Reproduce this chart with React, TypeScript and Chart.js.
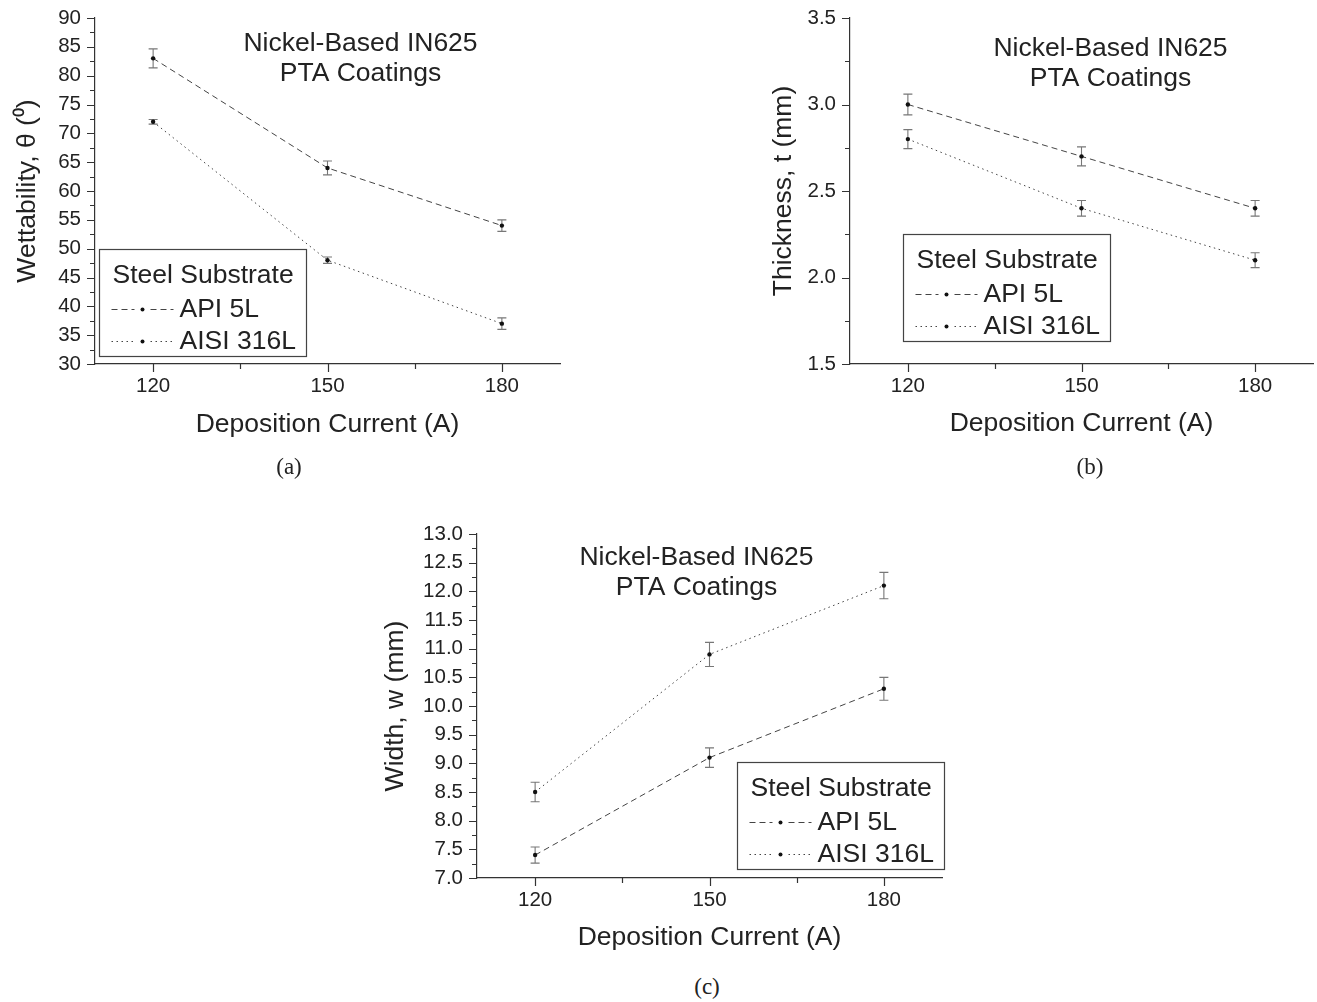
import { useEffect, useRef } from "react";
import { Chart, registerables } from "chart.js";
Chart.register(...registerables);

// ---------- data ----------
const currents = [120, 150, 180];
const xTicks = [120, 135, 150, 165, 180];
const xLabels = ["120", "150", "180"];
const seriesNames = ["API 5L", "AISI 316L"];
const legendTitle = "Steel Substrate";
const panelTitle = ["Nickel-Based IN625", "PTA Coatings"];
const xTitle = "Deposition Current (A)";

const wetApi = [83, 64, 54];
const wetApiErr = [1.65, 1.2, 1.0];
const wetAisi = [72, 48, 37];
const wetAisiErr = [0.4, 0.55, 1.0];

const thkApi = [3.0, 2.7, 2.4];
const thkApiErr = [0.06, 0.055, 0.045];
const thkAisi = [2.8, 2.4, 2.1];
const thkAisiErr = [0.055, 0.045, 0.043];

const widApi = [7.4, 9.1, 10.3];
const widApiErr = [0.14, 0.17, 0.2];
const widAisi = [8.5, 10.9, 12.1];
const widAisiErr = [0.17, 0.21, 0.23];

const FONT = '"Liberation Sans", Arial, Helvetica, sans-serif';
const TXT = "#222";
const AXIS = "#333";
const BIG = 26.5;
const TICK = 20.5;

type Panel = {
  key: string;
  box: { left: number; top: number; width: number; height: number };
  yTitle: string;
  yMin: number;
  yMax: number;
  yStep: number;
  yMajor: number;
  yDec: number;
  api: number[];
  apiErr: number[];
  aisi: number[];
  aisiErr: number[];
  padTop: number;
  padRight: number;
  yAxisW: number;
  xAxisH: number;
  yTitlePad: number;
  xTitlePad: number;
  titleDx: number;
  titleDy: number;
  legendDx: number;
  legendDyBottom: number;
  caption: string;
  capX: number;
  capY: number;
};

const panels: Panel[] = [
  {
    key: "a",
    box: { left: 0, top: 0, width: 600, height: 460 },
    yTitle: "Wettability, θ (⁰)",
    yMin: 30, yMax: 90, yStep: 2.5, yMajor: 5, yDec: 0,
    api: wetApi, apiErr: wetApiErr, aisi: wetAisi, aisiErr: wetAisiErr,
    padTop: 18, padRight: 40, yAxisW: 95, xAxisH: 96,
    yTitlePad: 12, xTitlePad: 19,
    titleDx: 265.5, titleDy: 26,
    legendDx: 4, legendDyBottom: 8,
    caption: "(a)", capX: 289, capY: 467,
  },
  {
    key: "b",
    box: { left: 740, top: 0, width: 577, height: 460 },
    yTitle: "Thickness, t (mm)",
    yMin: 1.5, yMax: 3.5, yStep: 0.25, yMajor: 0.5, yDec: 1,
    api: thkApi, apiErr: thkApiErr, aisi: thkAisi, aisiErr: thkAisiErr,
    padTop: 18, padRight: 2, yAxisW: 110, xAxisH: 96,
    yTitlePad: 28, xTitlePad: 20,
    titleDx: 260.5, titleDy: 31,
    legendDx: 53, legendDyBottom: 23,
    caption: "(b)", capX: 1090, capY: 467,
  },
  {
    key: "c",
    box: { left: 360, top: 500, width: 620, height: 470 },
    yTitle: "Width, w (mm)",
    yMin: 7, yMax: 13, yStep: 0.25, yMajor: 0.5, yDec: 1,
    api: widApi, apiErr: widApiErr, aisi: widAisi, aisiErr: widAisiErr,
    padTop: 34, padRight: 38, yAxisW: 117, xAxisH: 92,
    yTitlePad: 20, xTitlePad: 16,
    titleDx: 219.5, titleDy: 23.5,
    legendDx: 260, legendDyBottom: 9,
    caption: "(c)", capX: 707, capY: 987,
  },
];

const DASH_API = [6, 4];
const DASH_AISI = [1.5, 3.5];
const LINE = "#444";
const ERR = "#777";

const isMajor = (v: number, m: number) => Math.abs(v / m - Math.round(v / m)) < 1e-6;

const decorPlugin = {
  id: "decor",
  beforeDatasetsDraw(chart: any) {
    const ctx = chart.ctx;
    const ys = chart.scales.y;
    ctx.save();
    ctx.strokeStyle = ERR;
    ctx.lineWidth = 1.1;
    ctx.setLineDash([]);
    chart.data.datasets.forEach((ds: any, di: number) => {
      const meta = chart.getDatasetMeta(di);
      meta.data.forEach((el: any, i: number) => {
        const v = ds.data[i].y;
        const e = ds.errors[i];
        const y1 = ys.getPixelForValue(v + e);
        const y2 = ys.getPixelForValue(v - e);
        const x = el.x;
        ctx.beginPath();
        ctx.moveTo(x, y1);
        ctx.lineTo(x, y2);
        ctx.moveTo(x - 4.5, y1);
        ctx.lineTo(x + 4.5, y1);
        ctx.moveTo(x - 4.5, y2);
        ctx.lineTo(x + 4.5, y2);
        ctx.stroke();
      });
    });
    ctx.restore();
  },
  afterDraw(chart: any, _args: any, opts: any) {
    const ctx = chart.ctx;
    const ca = chart.chartArea;
    const xs = chart.scales.x;
    const ys = chart.scales.y;
    ctx.save();
    // tick marks
    ctx.strokeStyle = AXIS;
    ctx.lineWidth = 1.2;
    ctx.setLineDash([]);
    ctx.beginPath();
    xs.ticks.forEach((t: any) => {
      const px = Math.round(xs.getPixelForValue(t.value)) + 0.5;
      const len = xLabels.includes(String(t.value)) ? 8 : 5;
      ctx.moveTo(px, ca.bottom);
      ctx.lineTo(px, ca.bottom + len);
    });
    ys.ticks.forEach((t: any) => {
      const py = Math.round(ys.getPixelForValue(t.value)) + 0.5;
      const len = isMajor(t.value, opts.yMajor) ? 8 : 5;
      ctx.moveTo(ca.left, py);
      ctx.lineTo(ca.left - len, py);
    });
    ctx.stroke();

    // panel title
    ctx.fillStyle = TXT;
    ctx.font = `${BIG}px ${FONT}`;
    ctx.textAlign = "center";
    ctx.textBaseline = "middle";
    ctx.fillText(panelTitle[0], ca.left + opts.titleDx, ca.top + opts.titleDy);
    ctx.fillText(panelTitle[1], ca.left + opts.titleDx, ca.top + opts.titleDy + 30);

    // legend
    const bw = 207;
    const bh = 107;
    const bx = Math.round(ca.left + opts.legendDx) + 0.5;
    const by = Math.round(ca.bottom - opts.legendDyBottom - bh) + 0.5;
    ctx.fillStyle = "#fff";
    ctx.fillRect(bx, by, bw, bh);
    ctx.strokeStyle = "#444";
    ctx.lineWidth = 1.2;
    ctx.strokeRect(bx, by, bw, bh);
    ctx.fillStyle = TXT;
    ctx.textAlign = "left";
    ctx.fillText(legendTitle, bx + 13, by + 26);
    const rows = [
      { name: seriesNames[0], dash: DASH_API, dy: 60 },
      { name: seriesNames[1], dash: DASH_AISI, dy: 92 },
    ];
    rows.forEach((r) => {
      const yy = by + r.dy;
      ctx.strokeStyle = LINE;
      ctx.lineWidth = 1;
      ctx.setLineDash(r.dash);
      ctx.beginPath();
      ctx.moveTo(bx + 12, yy);
      ctx.lineTo(bx + 35, yy);
      ctx.moveTo(bx + 51, yy);
      ctx.lineTo(bx + 74, yy);
      ctx.stroke();
      ctx.setLineDash([]);
      ctx.fillStyle = "#111";
      ctx.beginPath();
      ctx.arc(bx + 43, yy, 2, 0, Math.PI * 2);
      ctx.fill();
      ctx.fillStyle = TXT;
      ctx.fillText(r.name, bx + 80, yy);
    });
    ctx.restore();
  },
};

function PanelChart({ p }: { p: Panel }) {
  const ref = useRef<HTMLCanvasElement | null>(null);
  useEffect(() => {
    if (!ref.current) return;
    const yVals: number[] = [];
    for (let v = p.yMin; v <= p.yMax + 1e-9; v += p.yStep) yVals.push(Number(v.toFixed(4)));
    const mk = (vals: number[]) => currents.map((c, i) => ({ x: c, y: vals[i] }));
    const chart = new Chart(ref.current, {
      type: "line",
      data: {
        datasets: [
          {
            label: seriesNames[0],
            data: mk(p.api),
            errors: p.apiErr,
            borderColor: LINE,
            borderWidth: 1,
            borderDash: DASH_API,
            pointRadius: 2.2,
            pointBackgroundColor: "#111",
            pointBorderWidth: 0,
            fill: false,
            tension: 0,
          } as any,
          {
            label: seriesNames[1],
            data: mk(p.aisi),
            errors: p.aisiErr,
            borderColor: LINE,
            borderWidth: 1,
            borderDash: DASH_AISI,
            pointRadius: 2.2,
            pointBackgroundColor: "#111",
            pointBorderWidth: 0,
            fill: false,
            tension: 0,
          } as any,
        ],
      },
      options: {
        animation: false,
        responsive: false,
        maintainAspectRatio: false,
        layout: { padding: { left: 0, top: p.padTop, right: p.padRight, bottom: 0 } },
        plugins: {
          legend: { display: false },
          tooltip: { enabled: false },
          decor: { yMajor: p.yMajor, titleDx: p.titleDx, titleDy: p.titleDy, legendDx: p.legendDx, legendDyBottom: p.legendDyBottom },
        } as any,
        scales: {
          x: {
            type: "linear",
            min: 110,
            max: 190,
            grid: { display: false },
            border: { display: true, color: AXIS, width: 1.2 },
            afterBuildTicks: (s: any) => {
              s.ticks = xTicks.map((v) => ({ value: v }));
            },
            ticks: {
              autoSkip: false,
              maxRotation: 0,
              padding: 2,
              color: TXT,
              font: { size: TICK, family: FONT },
              callback: (v: any) => (xLabels.includes(String(v)) ? String(v) : ""),
            },
            title: {
              display: true,
              text: xTitle,
              color: TXT,
              font: { size: BIG, family: FONT },
              padding: { top: 0, bottom: p.xTitlePad },
            },
            afterFit: (s: any) => {
              s.height = p.xAxisH;
              s.paddingLeft = 0;
              s.paddingRight = 0;
            },
          },
          y: {
            type: "linear",
            min: p.yMin,
            max: p.yMax,
            grid: { display: false },
            border: { display: true, color: AXIS, width: 1.2 },
            afterBuildTicks: (s: any) => {
              s.ticks = yVals.map((v) => ({ value: v }));
            },
            ticks: {
              autoSkip: false,
              padding: 6,
              color: TXT,
              font: { size: TICK, family: FONT },
              callback: (v: any) => (isMajor(Number(v), p.yMajor) ? Number(v).toFixed(p.yDec) : ""),
            },
            title: {
              display: true,
              text: p.yTitle,
              color: TXT,
              font: { size: BIG, family: FONT },
              padding: { top: p.yTitlePad, bottom: 0 },
            },
            afterFit: (s: any) => {
              s.width = p.yAxisW;
              s.paddingTop = 0;
              s.paddingBottom = 0;
            },
          },
        },
      },
      plugins: [decorPlugin as any],
    });
    return () => chart.destroy();
  }, [p]);
  return (
    <canvas
      ref={ref}
      width={p.box.width}
      height={p.box.height}
      style={{ position: "absolute", left: p.box.left, top: p.box.top, width: p.box.width, height: p.box.height }}
    />
  );
}

export default function App() {
  return (
    <div style={{ position: "absolute", left: 0, top: 0, width: 1317, height: 1002, background: "#fff", overflow: "hidden" }}>
      {panels.map((p) => (
        <PanelChart key={p.key} p={p} />
      ))}
      {panels.map((p) => (
        <div
          key={"cap" + p.key}
          style={{
            position: "absolute",
            left: p.capX - 50,
            top: p.capY - 15,
            width: 100,
            height: 30,
            lineHeight: "30px",
            textAlign: "center",
            fontFamily: '"Liberation Serif", "Times New Roman", serif',
            fontSize: 23,
            color: TXT,
          }}
        >
          {p.caption}
        </div>
      ))}
    </div>
  );
}
